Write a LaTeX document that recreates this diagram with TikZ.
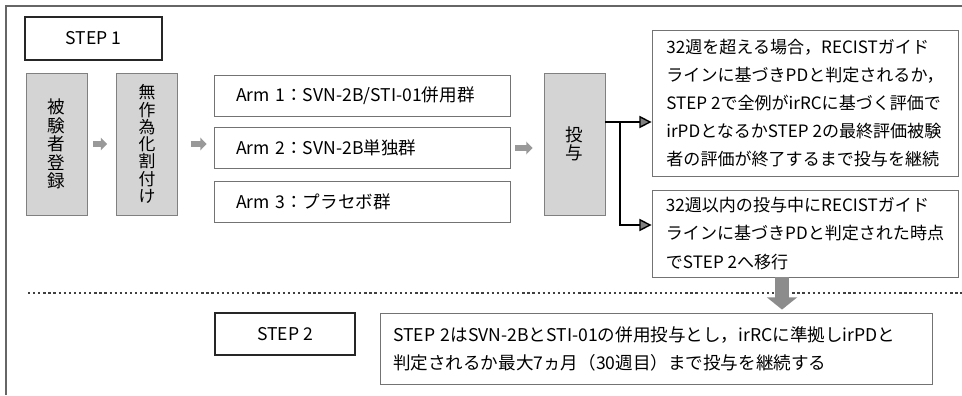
\documentclass[tikz,border=0pt]{standalone}
\usepackage{fontspec}
\setmainfont{Noto Sans CJK JP}
\usetikzlibrary{positioning,calc,arrows.meta}

\begin{document}
\begin{tikzpicture}[x=0.02cm, y=-0.02cm,
        every node/.style={font=\fontsize{10}{16}\selectfont},
        stepbox/.style={draw=black!85, line width=0.8pt, minimum width=2.74cm, minimum height=0.86cm},
        graybox/.style={draw=black!50, fill=black!17, line width=0.5pt, minimum width=1.22cm, minimum height=2.84cm, align=center, font=\fontsize{10}{10.5}\selectfont},
        arm/.style={draw=black!55, line width=0.5pt, minimum height=0.82cm, text width=5.04cm, inner xsep=0.44cm, align=left},
        textbox/.style={draw=black!55, line width=0.5pt, minimum width=6.12cm, align=left, font=\fontsize{9.7}{16}\selectfont},
        garrow/.style={line width=3pt, black!40, -{Triangle[length=3.5pt,width=7pt]}},
        conn/.style={line width=0.8pt, -{Triangle[length=7pt,width=7pt,fill=black!50]}}
    ]
        \useasboundingbox (0,0) rectangle (962,395);
        \draw[black!60, line width=0.6pt] (962,6) -- (6,6) -- (6,395);

        \node[stepbox] (s1) at (93.5,38.5) {STEP 1};
        \node[graybox] (reg) at (56.5,144) {被\\験\\者\\登\\録};
        \node[graybox, font=\fontsize{9.6}{9.8}\selectfont] (rand) at (147,144) {無\\作\\為\\化\\割\\付\\け};
        \node[arm] (arm1) at (362,95.5) {Arm 1：SVN-2B/STI-01併用群};
        \node[arm] (arm2) at (362,148) {Arm 2：SVN-2B単独群};
        \node[arm] (arm3) at (362,201.5) {Arm 3：プラセボ群};
        \node[graybox] (dose) at (574.5,144) {投\\与};
        \node[textbox, minimum height=2.92cm] (cont) at (805,103) {32週を超える場合，RECISTガイド\\ラインに基づきPDと判定されるか，\\STEP 2で全例がirRCに基づく評価で\\irPDとなるかSTEP 2の最終評価被験\\者の評価が終了するまで投与を継続};
        \node[textbox, minimum height=1.74cm] (move) at (805,233.5) {32週以内の投与中にRECISTガイド\\ラインに基づきPDと判定された時点\\でSTEP 2へ移行};
        \node[stepbox, minimum width=2.8cm, minimum height=0.84cm] (s2) at (285,334) {STEP 2};
        \node[draw=black!55, line width=0.5pt, text width=10.52cm, inner xsep=0.26cm, align=left, minimum height=1.42cm] (fin) at (656,348.5) {STEP 2はSVN-2BとSTI-01の併用投与とし，irRCに準拠しirPDと\\判定されるか最大7ヵ月（30週目）まで投与を継続する};

        \draw[garrow, shorten <=0.12cm, shorten >=0.18cm] (reg) -- (rand);
        \draw[garrow, shorten <=0.26cm, shorten >=0.14cm] (rand.east) -- (rand.east -| arm2.west);
        \draw[garrow, shorten <=0.1cm, shorten >=0.22cm] (arm2.east) -- (arm2.east -| dose.west);

        \coordinate (fork) at (620,122);
        \coordinate (forkb) at (620,225);
        \draw[conn] (dose.east |- fork) -- (cont.west |- fork);
        \draw[conn] (fork) -- (forkb) -- (move.west |- forkb);

        \draw[black!75, line width=1.3pt, dash pattern=on 1.3pt off 1.6pt] (28,293) -- (962,293);
        \coordinate (dtop) at ([xshift=-0.46cm]move.south);
        \draw[line width=8pt, black!45, shorten >=0.06cm, -{Triangle[length=7pt,width=17pt]}] (dtop) -- (dtop |- fin.north);
    \end{tikzpicture}
\end{document}
